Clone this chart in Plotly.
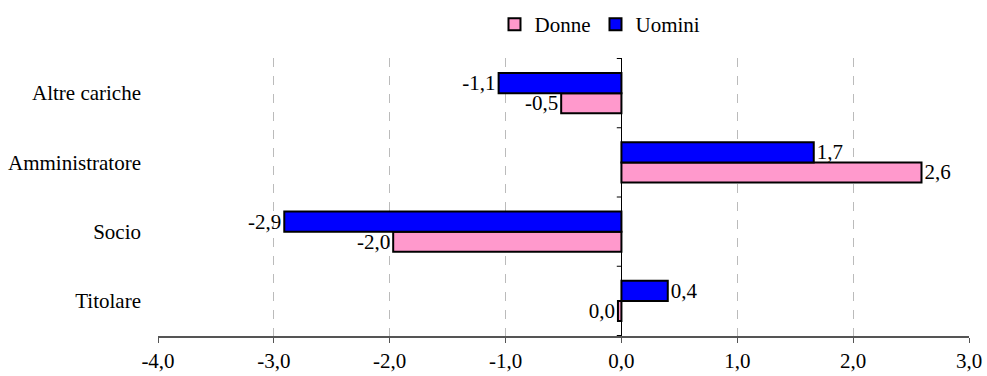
import plotly.graph_objects as go

categories = ["Titolare", "Socio", "Amministratore", "Altre cariche"]
donne = [-0.03, -1.97, 2.59, -0.52]
uomini = [0.40, -2.91, 1.66, -1.06]
x_ticks = [-4, -3, -2, -1, 0, 1, 2, 3]

FONT = "Liberation Serif"
SIZE = 21


def fmt(v):
    s = f"{v:.1f}".replace(".", ",")
    return "0,0" if s == "-0,0" else s


fig = go.Figure()
for name, vals, color in [("Donne", donne, "#FF99CC"), ("Uomini", uomini, "#0000FF")]:
    fig.add_trace(go.Bar(
        y=categories, x=vals, name=name, orientation="h",
        marker=dict(color=color, line=dict(color="black", width=2)),
        text=[fmt(v) for v in vals], textposition="outside",
        textfont=dict(family=FONT, size=SIZE, color="black"),
        constraintext="none",
        cliponaxis=False,
    ))

# small tick marks on the zero line between categories
for b in [-0.5, 0.5, 1.5, 2.5, 3.5]:
    fig.add_shape(type="line", xref="x", yref="y", x0=-0.04, x1=0, y0=b, y1=b,
                  line=dict(color="black", width=1))

fig.update_layout(
    width=987, height=376,
    margin=dict(l=158, r=18, t=58, b=40, autoexpand=False),
    paper_bgcolor="white", plot_bgcolor="white",
    barmode="group", bargap=0.42, bargroupgap=0,
    font=dict(family=FONT, size=SIZE, color="black"),
    showlegend=True,
    legend=dict(orientation="h", x=0.545, y=1.12, xanchor="center", yanchor="middle",
                font=dict(family=FONT, size=SIZE), traceorder="normal",
                itemwidth=30),
    xaxis=dict(range=[-4, 3], tickvals=x_ticks,
               ticktext=[fmt(t) for t in x_ticks],
               automargin=False,
               showgrid=True, gridcolor="#BBBBBB", griddash="dash", gridwidth=1,
               zeroline=True, zerolinecolor="black", zerolinewidth=1,
               showline=True, linecolor="#555555", linewidth=1.5,
               ticks="outside", ticklen=5, tickcolor="#555555",
               tickfont=dict(family=FONT, size=SIZE)),
    yaxis=dict(categoryorder="array", categoryarray=categories,
               automargin=False,
               showgrid=False, zeroline=False, showline=False, ticks="",
               ticklabelstandoff=16,
               tickfont=dict(family=FONT, size=SIZE)),
    separators=",.",
)

fig.write_html("out.html")
